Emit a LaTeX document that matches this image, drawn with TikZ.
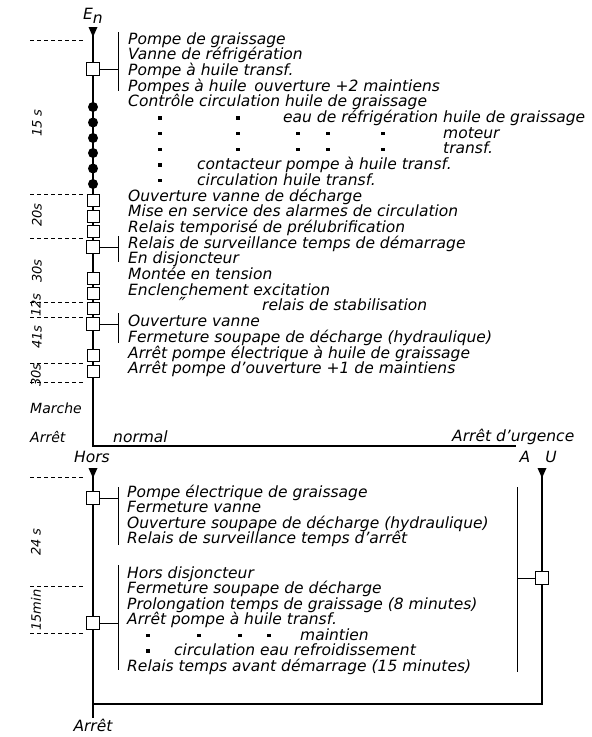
\documentclass[tikz,border=0pt]{standalone}
\usepackage{fontspec}
\setmainfont{DejaVu Sans}[ItalicFont={DejaVu Sans Oblique}]
\begin{document}
\begin{tikzpicture}[x=1pt,y=-1pt,
  txt/.style={anchor=base west, inner sep=0, font=\itshape\fontsize{15.5}{15.5}\selectfont},
  tim/.style={rotate=90, inner sep=0, font=\itshape\fontsize{13}{13}\selectfont},
  sq/.style={draw, fill=white, line width=0.9pt, minimum size=12pt, inner sep=0},
  bsq/.style={sq, minimum size=13pt},
  blob/.style={circle, fill=black, minimum size=10pt, inner sep=0},
  dit/.style={rectangle, fill=black, minimum size=3.3pt, inner sep=0},
  mainln/.style={line width=1.3pt},
  brk/.style={line width=0.9pt},
  dsh/.style={line width=0.6pt, dash pattern=on 4pt off 3pt},
  arrowtri/.style={fill=black}]
\useasboundingbox (0,0) rectangle (592,737);

% ---------------- coordinates of the main lines
\coordinate (topA) at (93,27);
\coordinate (corner1) at (93,446);
\coordinate (end1) at (516,446);
\coordinate (horsA) at (93,468);
\coordinate (botEnd) at (93,718);
\coordinate (botJoin) at (93,704);
\coordinate (uTop) at (542,468);
\coordinate (uCorner) at (542,704);
\coordinate (aTop) at (517,487);
\coordinate (aBot) at (517,672);
\coordinate (aMid) at (517,578);

% main lines
\draw[mainln] (topA) -- (corner1) -- (end1);
\draw[mainln] (horsA) -- (botEnd);
\draw[mainln] (uTop) -- (uCorner) -- (botJoin);
\draw[brk] (aTop) -- (aBot);

% arrow heads
\fill[arrowtri] (topA) ++(-4.5,0) -- ++(9,0) -- ++(-4.5,10) -- cycle;
\fill[arrowtri] (horsA) ++(-4.5,0) -- ++(9,0) -- ++(-4.5,10) -- cycle;
\fill[arrowtri] (uTop) ++(-4.5,0) -- ++(9,0) -- ++(-4.5,10) -- cycle;

% dashed time marks
\foreach \y [count=\k] in {40,194,238,302,317,363,382,477,586,633}
  \draw[dsh] (30,\y) coordinate (dL\k) -- (83,\y) coordinate (dR\k);

% squares and dots on main line
\node[bsq] (s1) at (93,69) {};
\foreach \y [count=\k] in {107,122.5,138,153,168.5,184}
  \node[blob] (b\k) at (93,\y) {};
\node[sq] (s2) at (93,200) {};
\node[sq] (s3) at (93,216) {};
\node[sq] (s4) at (93,231.5) {};
\node[bsq] (s5) at (93,247) {};
\node[sq] (s6) at (93,278) {};
\node[sq] (s7) at (93,293) {};
\node[sq] (s8) at (93,308.5) {};
\node[bsq] (s9) at (93,324) {};
\node[sq] (s10) at (93,355.5) {};
\node[sq] (s11) at (93,371) {};
\node[bsq] (s12) at (93,498) {};
\node[bsq] (s13) at (93,623) {};
\node[bsq] (s14) at (542,578) {};

% brackets
\coordinate (k1a) at (118,32);  \coordinate (k1b) at (118,91);
\coordinate (k2a) at (118,236); \coordinate (k2b) at (118,262);
\coordinate (k3a) at (118,313); \coordinate (k3b) at (118,343);
\coordinate (k4a) at (118,487); \coordinate (k4b) at (118,545);
\coordinate (k5a) at (118,565); \coordinate (k5b) at (118,670);
\draw[brk] (k1a) -- (k1b);
\draw[brk] (k2a) -- (k2b);
\draw[brk] (k3a) -- (k3b);
\draw[brk] (k4a) -- (k4b);
\draw[brk] (k5a) -- (k5b);
\draw[brk] (s1.east) -- (s1.east -| k1a);
\draw[brk] (s5.east) -- (s5.east -| k2a);
\draw[brk] (s9.east) -- (s9.east -| k3a);
\draw[brk] (s12.east) -- (s12.east -| k4a);
\draw[brk] (s13.east) -- (s13.east -| k5a);
\draw[brk] (aMid) -- (s14.west);

% labels
\node[txt, anchor=base] (En) at (93,19) {E\raisebox{-4pt}{n}};
\node[txt, anchor=base] (hors) at (92,462) {Hors};
\node[txt, anchor=base] (lA) at (525,462) {A};
\node[txt, anchor=base] (lU) at (551,462) {U};
\node[txt, anchor=base] (arr2) at (93,731) {Arrêt};
\node[txt, font=\itshape\fontsize{14}{14}\selectfont] (marche) at (30,413) {Marche};
\node[txt, font=\itshape\fontsize{14}{14}\selectfont] (arr1) at (30,442) {Arrêt};
\node[txt] (normal) at (113,442) {normal};
\node[txt] (urg) at (452,441) {Arrêt d'urgence};

% time labels
\node[tim] (t15) at (37,123) {15 s};
\node[tim] (t20) at (37,215) {20s};
\node[tim] (t30a) at (37,271) {30s};
\node[tim] (t12) at (36,305) {12s};
\node[tim] (t41) at (37,337) {41s};
\node[tim] (t30b) at (36,375) {30s};
\node[tim] (t24) at (36,542) {24 s};
\node[tim] (tmin) at (36,610) {15min};

% top text block
\foreach \txtline [count=\k from 0] in {
  Pompe de graissage,
  Vanne de réfrigération,
  Pompe à huile transf.,
  Pompes à huile\enspace ouverture +2 maintiens,
  Contrôle circulation huile de graissage,
  {}, {}, {}, {}, {},
  Ouverture vanne de décharge,
  Mise en service des alarmes de circulation,
  Relais temporisé de prélubrification,
  Relais de surveillance temps de démarrage,
  En disjoncteur,
  Montée en tension,
  Enclenchement excitation,
  {},
  Ouverture vanne,
  Fermeture soupape de décharge (hydraulique),
  Arrêt pompe électrique à huile de graissage,
  Arrêt pompe d'ouverture +1 de maintiens}
  \node[txt] (L\k) at (128,{44+15.7*\k}) {\txtline};

\node[txt] (r5) at (283,{44+15.7*5}) {eau de réfrigération huile de graissage};
\node[txt] (r6) at (443,{44+15.7*6}) {moteur};
\node[txt] (r7) at (443,{44+15.7*7}) {transf.};
\node[txt] (r8) at (197,{44+15.7*8}) {contacteur pompe à huile transf.};
\node[txt] (r9) at (197,{44+15.7*9}) {circulation huile transf.};
\node[txt, font=\itshape\fontsize{18}{18}\selectfont] (q17) at (179,{44+15.7*17}) {″};
\node[txt] (r17) at (262,{44+15.7*17}) {relais de stabilisation};

\foreach \x in {160,238} \node[dit] at (\x,{44+15.7*5-4.5}) {};
\foreach \x in {160,238,298,328,383} {
  \node[dit] at (\x,{44+15.7*6-4.5}) {};
  \node[dit] at (\x,{44+15.7*7-4.5}) {};}
\node[dit] (d8) at (160,{44+15.7*8-4.5}) {};
\node[dit] (d9) at (160,{44+15.7*9-4.5}) {};

% bottom text blocks
\foreach \txtline [count=\k from 0] in {
  Pompe électrique de graissage,
  Fermeture vanne,
  Ouverture soupape de décharge (hydraulique),
  Relais de surveillance temps d'arrêt}
  \node[txt] (M\k) at (127,{497+15.5*\k}) {\txtline};
\foreach \txtline [count=\k from 0] in {
  Hors disjoncteur,
  Fermeture soupape de décharge,
  Prolongation temps de graissage (8 minutes),
  Arrêt pompe à huile transf.,
  {},
  {},
  Relais temps avant démarrage (15 minutes)}
  \node[txt] (N\k) at (127,{578+15.5*\k}) {\txtline};
\node[txt] (n4) at (300,{578+15.5*4}) {maintien};
\node[txt] (n5) at (174,{578+15.5*5}) {circulation eau refroidissement};
\foreach \x in {148,199,240,269} \node[dit] at (\x,{578+15.5*4-4.5}) {};
\node[dit] (d13) at (148,{578+15.5*5-4.5}) {};
\end{tikzpicture}
\end{document}
